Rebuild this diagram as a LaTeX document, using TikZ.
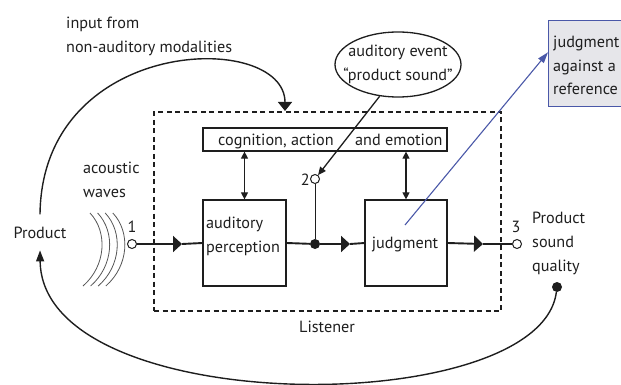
\documentclass[tikz,border=0pt]{standalone}
\usepackage{fontspec}
\setmainfont{PT Sans}
\usetikzlibrary{arrows.meta,shapes.geometric,calc}
\definecolor{jblue}{HTML}{4A58A8}
\definecolor{jgray}{HTML}{E6E6EA}
\definecolor{ink}{HTML}{1E1E1E}
\begin{document}
\begin{tikzpicture}[x=1pt,y=-1pt,
  lbl/.style={font=\fontsize{16.2}{19}\selectfont, text=ink, inner sep=0pt},
  blk/.style={draw=ink, line width=1.2pt, inner sep=0pt},
  mainln/.style={draw=ink, line width=1.9pt},
  tri/.style={-{Triangle[length=9pt,width=16pt]}},
  dbl/.style={draw=ink, line width=1.1pt, {Triangle[length=7pt,width=7pt]}-{Triangle[length=7pt,width=7pt]}},
  opn/.style={circle, draw=ink, line width=1pt, minimum size=9pt, inner sep=0pt, fill=white},
  fdot/.style={circle, fill=ink, minimum size=10pt, inner sep=0pt},
  curv/.style={draw=ink, line width=1.4pt},
  wave/.style={draw=ink!75, line width=0.8pt}]
\useasboundingbox (0,0) rectangle (621,385);
\clip (0,0) rectangle (621,385);

% listener dashed box
\node[draw=ink, line width=1.4pt, dash pattern=on 5pt off 3.5pt, minimum width=347pt, minimum height=199pt, inner sep=0pt] (lb) at (327.5,211.5) {};
\node[lbl, anchor=base] (lis) at (327,332) {Listener};

% texts
\node[lbl, anchor=base west] (in1) at (66,29) {input from};
\node[lbl, anchor=base west] (in2) at (66,53) {non-auditory modalities};
\node[lbl, anchor=base west] (ac1) at (83,173) {acoustic};
\node[lbl, anchor=base west] (ac2) at (83,197) {waves};
\node[lbl, anchor=base, inner ysep=12pt] (prod) at (40,238) {Product};

% waves
\foreach \i in {0,1,2,3}{
  \draw[wave] (90+7.6*\i,213) .. controls (108+7.6*\i,232) and (106+7.6*\i,266) .. (83+7.6*\i,286);
}

% points
\node[opn] (c1) at (132,244) {};
\node[lbl, anchor=base] (n1) at (132,232) {1};
\node[fdot] (d1) at (315,244) {};
\node[opn] (c2) at (315,179) {};
\node[lbl, anchor=base east] (n2) at (310,185) {2};
\node[opn] (c3) at (517,244) {};
\node[lbl, anchor=base] (n3) at (516,232) {3};
\node[fdot] (qd) at (557,287) {};

% boxes
\node[blk, fill=white, minimum width=244pt, minimum height=23pt] (cb) at (325,139.5) {};
\node[lbl, anchor=base west] (cbt1) at (218,146) {cognition, action};
\node[lbl, anchor=base west] (cbt2) at (355,146) {and emotion};
\node[blk, minimum width=83pt, minimum height=86pt] (ap) at (244.5,243) {};
\node[lbl, anchor=base west] (apt1) at (206,228) {auditory};
\node[lbl, anchor=base west] (apt2) at (206,252) {perception};
\node[blk, minimum width=82pt, minimum height=86pt] (jb) at (406,243) {};
\node[lbl, anchor=base] (jbt) at (405,248) {judgment};

% product sound quality
\node[lbl, anchor=base west] (q1) at (532,223) {Product};
\node[lbl, anchor=base west] (q2) at (532,247) {sound};
\node[lbl, anchor=base west] (q3) at (532,271) {quality};

% ellipse
\node[draw=ink, line width=1.3pt, ellipse, minimum width=126pt, minimum height=65pt, inner sep=0pt] (ell) at (398,64.5) {};
\node[lbl, anchor=base] (e1) at (398,57) {auditory event};
\node[lbl, anchor=base] (e2) at (398,81) {“product sound”};

% reference box
\node[draw=jblue, fill=jgray, line width=1.3pt, minimum width=95pt, minimum height=86pt, inner sep=0pt, anchor=north west] (jr) at (548,20) {};
\node[lbl, anchor=base west] (r1) at (553,48) {judgment};
\node[lbl, anchor=base west] (r2) at (553,72) {against a};
\node[lbl, anchor=base west] (r3) at (553,95) {reference};

% main signal path
\coordinate (a1) at (182,244);
\coordinate (a2) at (350,244);
\coordinate (a3) at (483,244);
\draw[mainln, tri] (c1) -- (a1);
\draw[mainln] (a1) -- (ap.west);
\draw[mainln] (ap.east) -- (d1);
\draw[mainln, tri] (d1) -- (a2);
\draw[mainln] (a2) -- (jb.west);
\draw[mainln, tri] (jb.east) -- (a3);
\draw[mainln] (a3) -- (c3);
\draw[draw=ink, line width=1pt] (d1) -- (c2);

% double arrows
\draw[dbl] (ap.north) -- (ap.north |- cb.south);
\draw[dbl] (jb.north) -- (jb.north |- cb.south);

% ellipse to point 2
\draw[draw=ink, line width=1.3pt, -{Triangle[length=8pt,width=7pt]}] (ell.240) -- (c2);

% blue connector
\coordinate (bs) at (405,225);
\draw[draw=jblue, line width=1.1pt, -{Triangle[length=11pt,width=7pt]}] (bs) -- ($(jr.north west)!0.37!(jr.south west)$);

% input curve
\coordinate (inarr) at (285,111);
\draw[curv, -{Triangle[length=9pt,width=14pt]}] (prod.north) .. controls (42,35) and (285,30) .. (inarr);

% feedback curve
\draw[curv, -{Triangle[length=11pt,width=8pt]}] (qd) .. controls (540,420) and (42,420) .. (prod.south);
\end{tikzpicture}
\end{document}
